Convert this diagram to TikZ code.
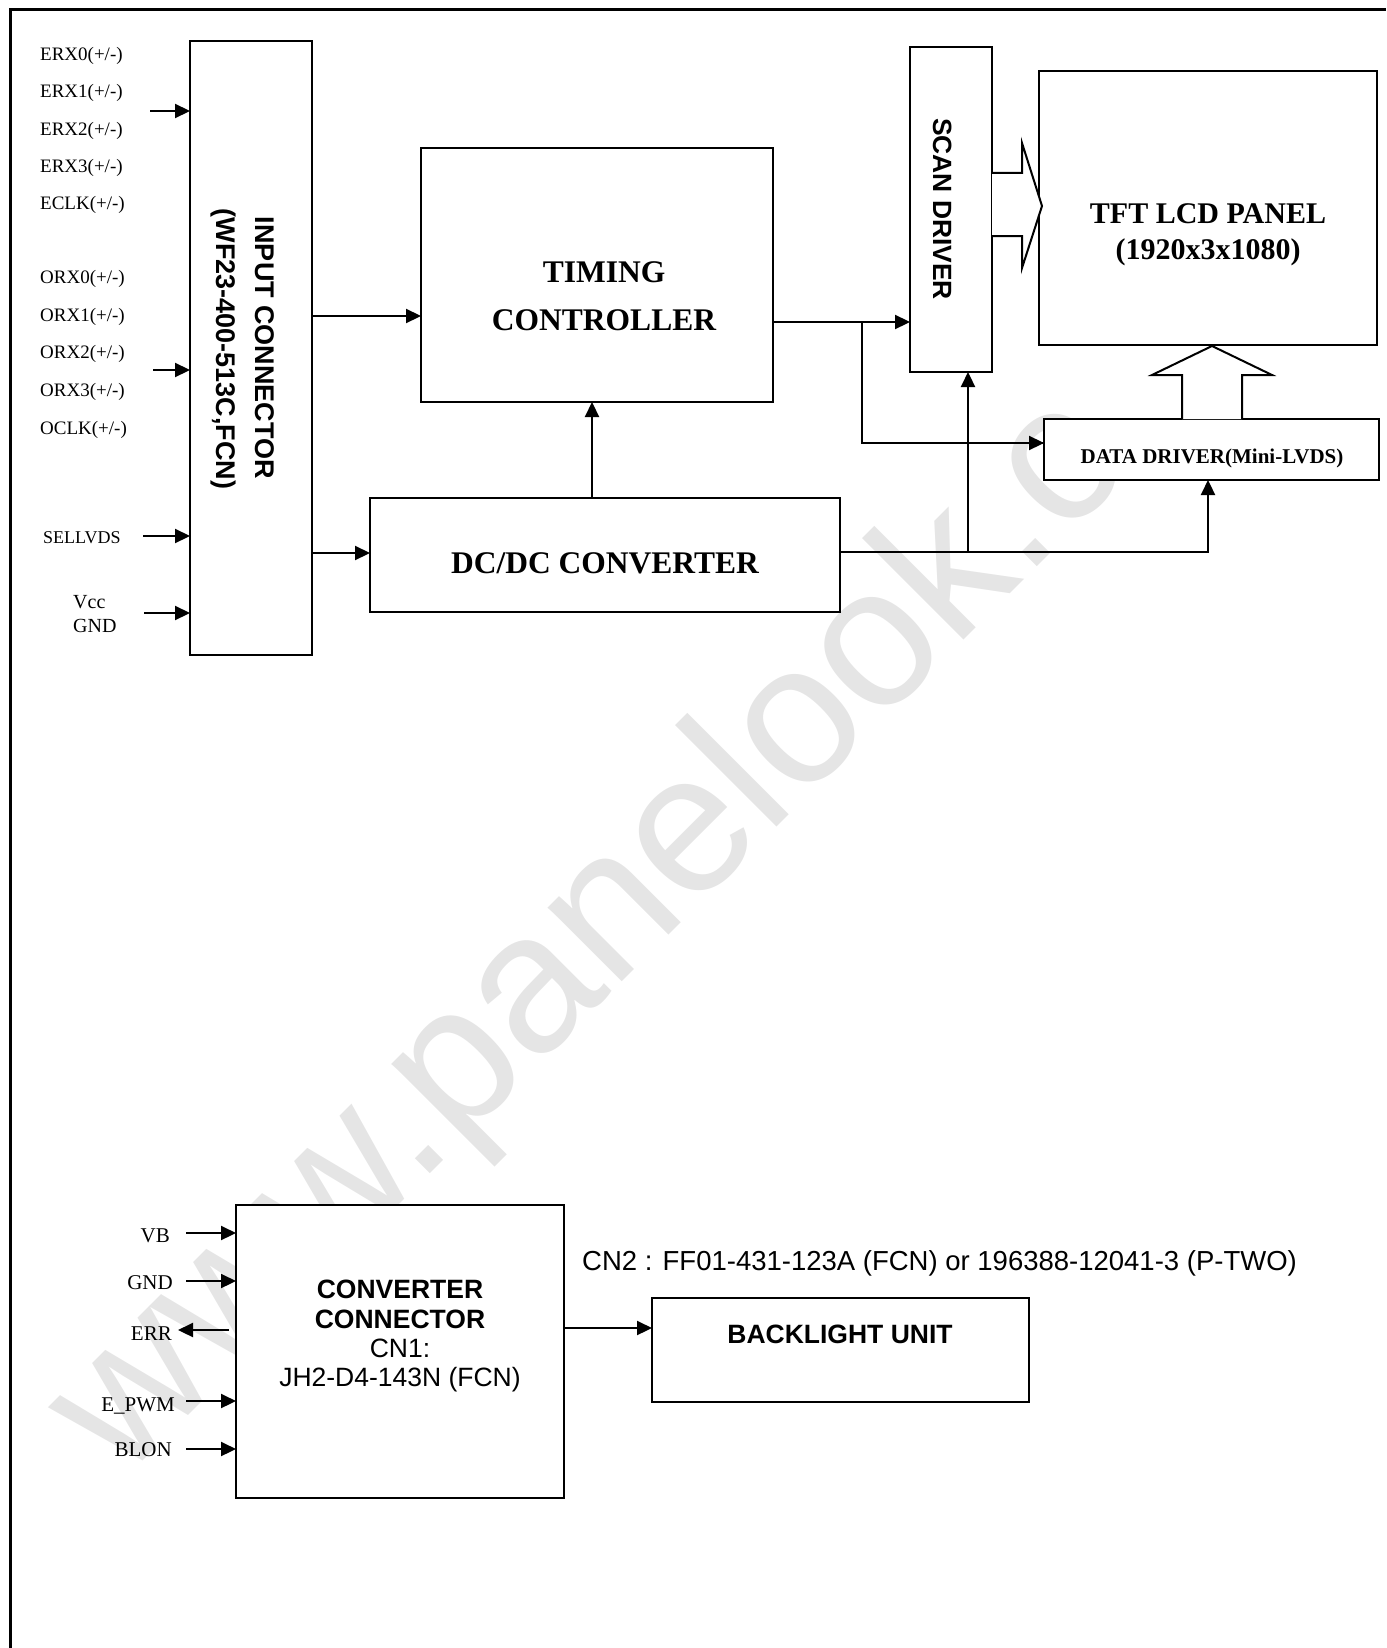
\documentclass[tikz,border=0pt]{standalone}
\usepackage{fontspec}
\setmainfont{Liberation Serif}
\setsansfont{Liberation Sans}
\usetikzlibrary{arrows.meta}
\begin{document}
\begin{tikzpicture}[x=1pt,y=-1pt,
  box/.style={draw, line width=2.7pt, fill=white, inner sep=0pt, outer sep=0pt, anchor=north west},
  conn/.style={line width=2.2pt, -{Triangle[length=15pt,width=14pt]}},
  wire/.style={line width=2.2pt},
  hollow/.style={line width=2pt, fill=white, line join=miter},
  lbl/.style={inner sep=0pt, anchor=base west, font=\fontsize{19}{22}\selectfont},
  lblr/.style={inner sep=0pt, anchor=base east, font=\fontsize{21}{24}\selectfont},
  ttl/.style={inner sep=0pt, anchor=base, font=\fontsize{31.5}{36}\selectfont\bfseries},
  sfb/.style={inner sep=0pt, anchor=base, font=\sffamily\bfseries\fontsize{26.5}{30}\selectfont},
  sfr/.style={inner sep=0pt, anchor=base, font=\sffamily\fontsize{26.5}{30}\selectfont},
  wm/.style={inner sep=0pt, anchor=base west, text=black!10, font=\sffamily\fontsize{198}{205}\selectfont}
]
\useasboundingbox (0,0) rectangle (1386,1648);
% watermark
\node[wm, rotate=45] (wmark) at (122,1482) {www.panelook.c};
% frame
\coordinate (f1) at (10,1648);
\coordinate (f2) at (10,10);
\coordinate (f3) at (1386,10);
\draw[line width=3pt] (f1) -- (f2) -- (f3);

% boxes
\node[box, minimum width=122pt, minimum height=614pt] (ic) at (190,41) {};
\node[box, minimum width=352pt, minimum height=254pt] (tc) at (421,148) {};
\node[box, minimum width=470pt, minimum height=114pt] (dc) at (370,498) {};
\node[box, minimum width=82pt, minimum height=325pt] (sd) at (910,47) {};
\node[box, minimum width=338pt, minimum height=274pt] (tft) at (1039,71) {};
\node[box, minimum width=335pt, minimum height=61pt] (dd) at (1044,419) {};
\node[box, minimum width=328pt, minimum height=293pt] (cc) at (236,1205) {};
\node[box, minimum width=377pt, minimum height=104pt] (bl) at (652,1298) {};

% box texts
\node[sfb, font=\sffamily\bfseries\fontsize{27}{30}\selectfont, rotate=-90] (ict1) at (255,348) {INPUT CONNECTOR};
\node[sfb, font=\sffamily\bfseries\fontsize{27}{30}\selectfont, rotate=-90] (ict2) at (216,349) {(WF23-400-513C,FCN)};
\node[ttl] (tct1) at (604,282) {TIMING};
\node[ttl] (tct2) at (604,330) {CONTROLLER};
\node[ttl] (dct) at (605,573) {DC/DC CONVERTER};
\node[sfb, font=\sffamily\bfseries\fontsize{26.4}{30}\selectfont, rotate=-90] (sdt) at (933,209) {SCAN DRIVER};
\node[ttl, font=\fontsize{30}{34}\selectfont\bfseries] (tftt1) at (1208,223) {TFT LCD PANEL};
\node[ttl, font=\fontsize{30}{34}\selectfont\bfseries] (tftt2) at (1208,259) {(1920x3x1080)};
\node[ttl, font=\fontsize{21}{24}\selectfont\bfseries] (ddt) at (1212,463) {DATA DRIVER(Mini-LVDS)};
\node[sfb] (cct1) at (400,1298) {CONVERTER};
\node[sfb] (cct2) at (400,1328) {CONNECTOR};
\node[sfr] (cct3) at (400,1357) {CN1:};
\node[sfr] (cct4) at (400,1386) {JH2-D4-143N (FCN)};
\node[sfb] (blt) at (840,1343) {BACKLIGHT UNIT};
\node[sfr, anchor=base west, font=\sffamily\fontsize{27.5}{30}\selectfont] (cn2) at (582,1270) {CN2 : FF01-431-123A (FCN) or 196388-12041-3 (P-TWO)};

% input labels
\node[lbl] (l1) at (40,60.3) {ERX0(+/-)};
\node[lbl] (l2) at (40,97.3) {ERX1(+/-)};
\node[lbl] (l3) at (40,135.3) {ERX2(+/-)};
\node[lbl] (l4) at (40,172.3) {ERX3(+/-)};
\node[lbl] (l5) at (40,209.3) {ECLK(+/-)};
\node[lbl] (l6) at (40,283.8) {ORX0(+/-)};
\node[lbl] (l7) at (40,321.3) {ORX1(+/-)};
\node[lbl] (l8) at (40,358.8) {ORX2(+/-)};
\node[lbl] (l9) at (40,396.3) {ORX3(+/-)};
\node[lbl] (l10) at (40,434.3) {OCLK(+/-)};
\node[lbl, font=\fontsize{18}{21}\selectfont] (l11) at (43,543) {SELLVDS};
\node[lbl, font=\fontsize{20}{23}\selectfont] (l12) at (73,608) {Vcc};
\node[lbl, font=\fontsize{20}{23}\selectfont] (l13) at (73,632) {GND};

% input arrows
\coordinate (a1) at (150,111);
\coordinate (a2) at (153,370);
\coordinate (a3) at (143,536);
\coordinate (a4) at (144,613);
\draw[conn] (a1) -- (a1 -| ic.west);
\draw[conn] (a2) -- (a2 -| ic.west);
\draw[conn] (a3) -- (a3 -| ic.west);
\draw[conn] (a4) -- (a4 -| ic.west);

% internal connectors
\coordinate (y1) at (0,316);
\coordinate (y2) at (0,553);
\draw[conn] (ic.east |- y1) -- (tc.west |- y1);
\draw[conn] (ic.east |- y2) -- (dc.west |- y2);
\coordinate (x3) at (592,0);
\draw[conn] (x3 |- dc.north) -- (x3 |- tc.south);
\coordinate (y4) at (0,322);
\draw[conn] (tc.east |- y4) -- (sd.west |- y4);
\coordinate (br1) at (862,322);
\coordinate (ddin) at (1044,443);
\draw[wire] (br1) |- (ddin);
\draw[conn] (1000,443) -- (ddin);
\coordinate (dcout) at (840,552);
\coordinate (c1) at (968,552);
\coordinate (c2) at (1208,552);
\draw[conn] (dcout) -| (c2 |- dd.south);
\draw[conn] (c1) -- (c1 |- sd.south);

% hollow arrows
\coordinate (h1) at (992,173);
\coordinate (h2) at (992,236);
\draw[hollow] (h1) -- (1022,173) -- (1022,143) -- (1042,206) -- (1022,268) -- (1022,236) -- (h2);
\coordinate (v1) at (1182,419);
\coordinate (v2) at (1242,419);
\draw[hollow] (v1) -- (1182,375) -- (1152,375) -- (1212,346) -- (1272,375) -- (1242,375) -- (v2);

% converter inputs
\node[lblr] (b1) at (170,1242) {VB};
\node[lblr] (b2) at (173,1289) {GND};
\node[lblr] (b3) at (172,1340) {ERR};
\node[lblr] (b4) at (175,1411) {E\_PWM};
\node[lblr] (b5) at (172,1456) {BLON};
\coordinate (p1) at (186,1233);
\coordinate (p2) at (186,1281);
\coordinate (p3) at (229,1330);
\coordinate (p3e) at (178,1330);
\coordinate (p4) at (186,1401);
\coordinate (p5) at (186,1449);
\draw[conn] (p1) -- (p1 -| cc.west);
\draw[conn] (p2) -- (p2 -| cc.west);
\draw[conn] (p3) -- (p3e);
\draw[conn] (p4) -- (p4 -| cc.west);
\draw[conn] (p5) -- (p5 -| cc.west);
\coordinate (y5) at (0,1328);
\draw[conn] (cc.east |- y5) -- (bl.west |- y5);
\end{tikzpicture}
\end{document}
